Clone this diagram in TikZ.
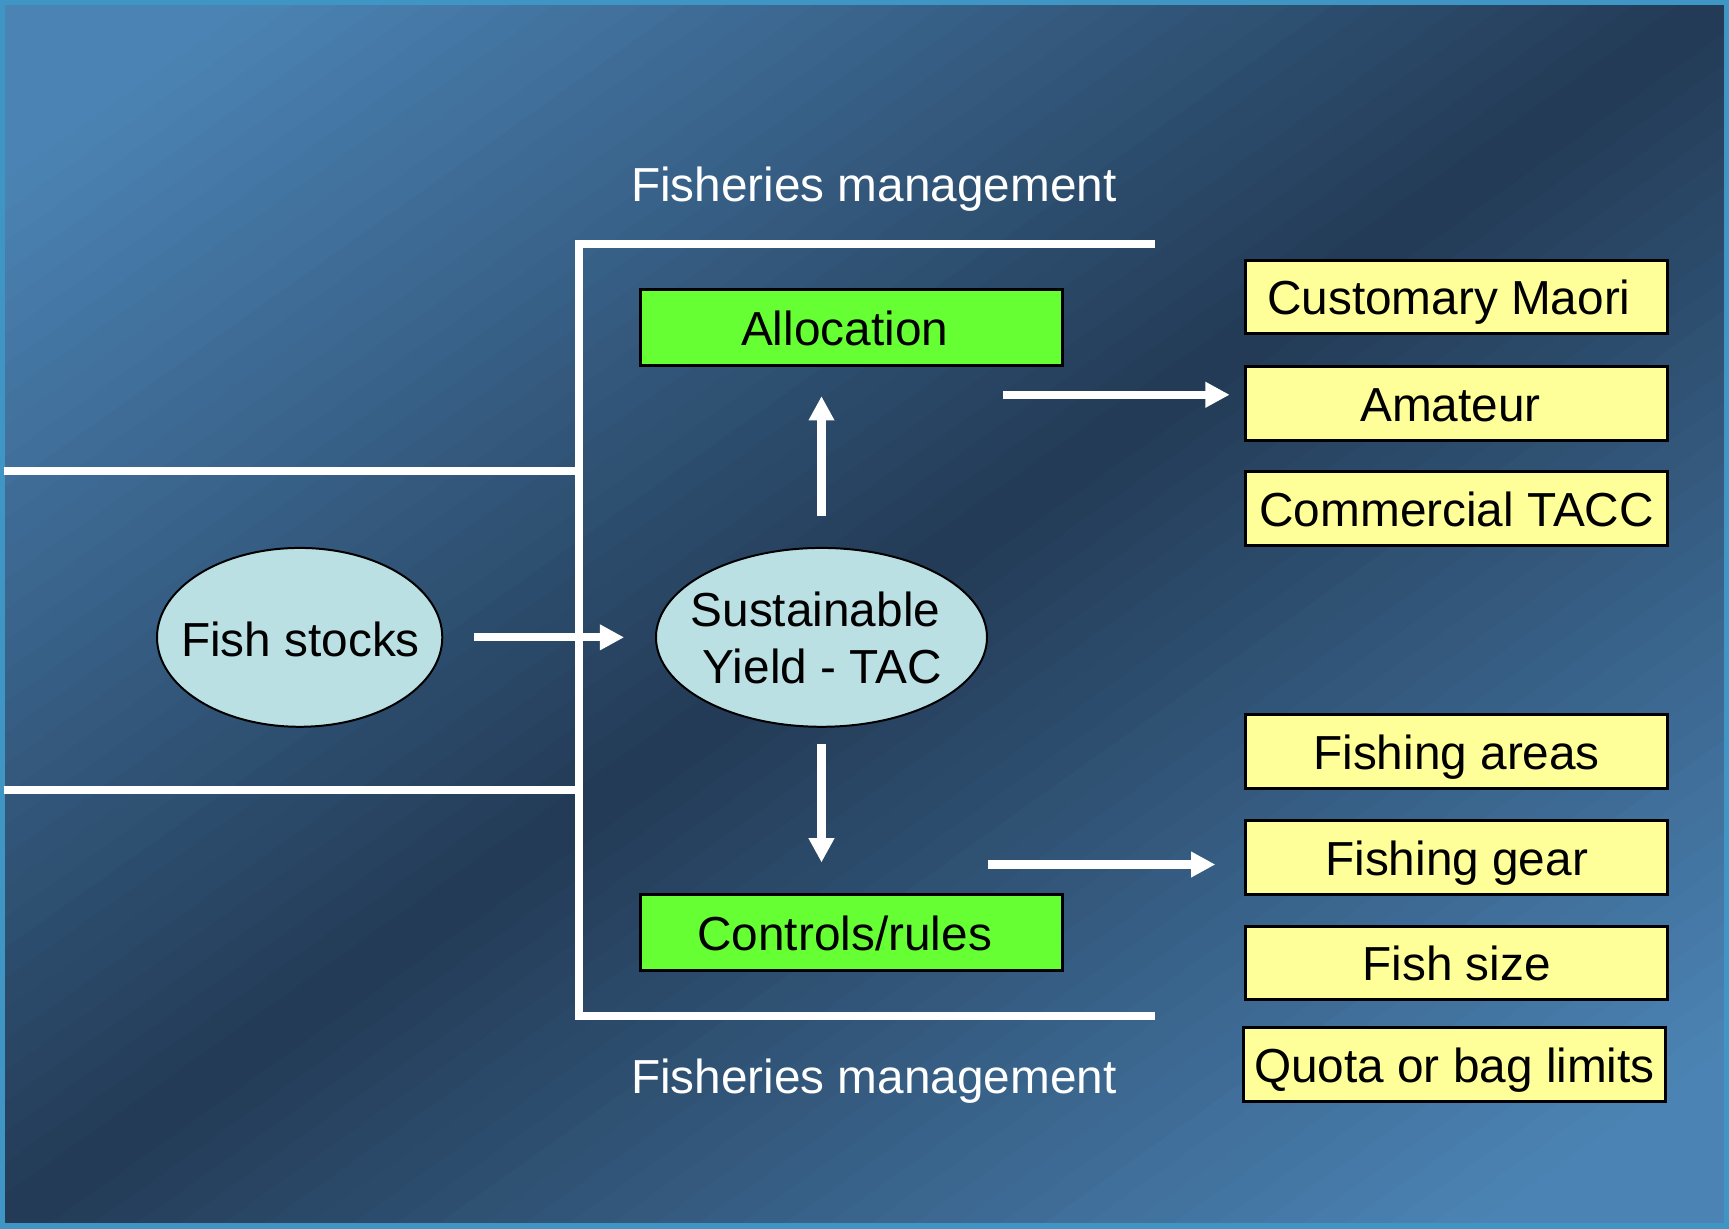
\documentclass[tikz,border=0pt]{standalone}
\usepackage{fontspec}
\setmainfont{Liberation Sans}
\usetikzlibrary{arrows.meta,shapes.geometric}
\definecolor{bgdark}{HTML}{223A55}
\definecolor{bglight}{HTML}{4B83B4}
\definecolor{framecol}{HTML}{3F95C4}
\definecolor{greenfill}{HTML}{66FF33}
\definecolor{yellowfill}{HTML}{FFFF99}
\definecolor{ellfill}{HTML}{BAE0E3}
\tikzset{
  txt/.style={font=\fontsize{43.3pt}{52pt}\selectfont, inner sep=0pt},
  gbox/.style={txt, draw=black, line width=2.7pt, fill=greenfill, minimum width=383pt, minimum height=69pt, text height=32pt, text depth=0pt},
  ybox/.style={txt, draw=black, line width=2.7pt, fill=yellowfill, minimum width=383pt, minimum height=67pt, text height=32pt, text depth=0pt},
  ell/.style={ellipse, draw=black, line width=1.8pt, fill=ellfill, inner sep=0pt},
  wline/.style={draw=white, line width=7.3pt},
  warrow/.style={draw=white, line width=7.3pt, -{Triangle[length=22pt,width=22pt]}},
  wtext/.style={txt, text=white, anchor=base},
  btext/.style={txt, text=black, anchor=base}
}
\begin{document}
\begin{tikzpicture}[x=1pt,y=-1pt]
\useasboundingbox (0,0) rectangle (1568,1114);
% background gradient
\begin{scope}
  \clip (0,0) rectangle (1568,1114);
  \foreach \i in {0,...,79}{
    \pgfmathsetmacro\sa{-1+\i*0.025}
    \pgfmathsetmacro\sb{\sa+0.0255}
    \pgfmathsetmacro\sm{\sa+0.0125}
    \pgfmathsetmacro\tval{min(1,abs(\sm)/0.85)*100}
    \colorlet{bgc}{bglight!\tval!bgdark}
    \fill[bgc] ({1568*(1+\sa)},0) -- ({1568*(1+\sb)},0) -- ({1568*\sb},1114) -- ({1568*\sa},1114) -- cycle;
  }
\end{scope}
\draw[framecol, line width=9pt] (0,0) rectangle (1568,1114);

% structure lines
\coordinate (tr) at (1047,221);
\coordinate (tl) at (525.5,221);
\coordinate (bl) at (525.5,921);
\coordinate (br) at (1047,921);
\coordinate (l1a) at (4,427);
\coordinate (l1b) at (525.5,427);
\coordinate (l2a) at (4,716);
\coordinate (l2b) at (525.5,716);
\draw[wline] (tr) -- (tl) -- (bl) -- (br);
\draw[wline] (l1a) -- (l1b);
\draw[wline] (l2a) -- (l2b);

% titles
\node[wtext] (fm1) at (792.5,183) {Fisheries management};
\node[wtext] (fm2) at (792.5,992) {Fisheries management};

% ellipses
\node[ell, minimum width=258.7pt, minimum height=162.2pt] (fish) at (271.75,578) {};
\node[btext] (fishtxt) at (272.5,595) {Fish stocks};
\node[ell, minimum width=300.2pt, minimum height=162.2pt] (sy) at (745,578) {};
\node[btext] (sy1) at (739.5,567.7) {Sustainable};
\node[btext] (sy2) at (745.6,620) {Yield - TAC};

% green boxes
\node[gbox] (alloc) at (772,297) {Allocation\hspace*{12pt}};
\node[gbox] (ctrl) at (772,846) {Controls/rules\hspace*{12pt}};

% yellow boxes
\node[ybox] (cm) at (1321,269.3) {Customary Maori\hspace*{14pt}};
\node[ybox] (am) at (1321,366) {Amateur\hspace*{11pt}};
\node[ybox] (ct) at (1321,461.5) {Commercial TACC};
\node[ybox] (fa) at (1321,681.5) {Fishing areas};
\node[ybox] (fg) at (1321,777.6) {Fishing gear};
\node[ybox] (fs) at (1321,873.3) {Fish size};
\node[ybox] (qb) at (1319,965.7) {Quota or bag limits};

% arrows
\draw[warrow, shorten <=28pt, shorten >=28pt] (fish.east) -- (sy.west);
\draw[warrow, shorten <=28pt, shorten >=26.4pt] (sy.north) -- (sy.north |- alloc.south);
\draw[warrow, shorten <=15pt, shorten >=28pt] (sy.south) -- (sy.south |- ctrl.north);
\coordinate (amstart) at (910,358);
\draw[warrow, shorten >=13pt] (amstart) -- (amstart -| am.west);
\coordinate (gstart) at (896,784);
\draw[warrow, shorten >=26pt] (gstart) -- (gstart -| fg.west);
\end{tikzpicture}
\end{document}
